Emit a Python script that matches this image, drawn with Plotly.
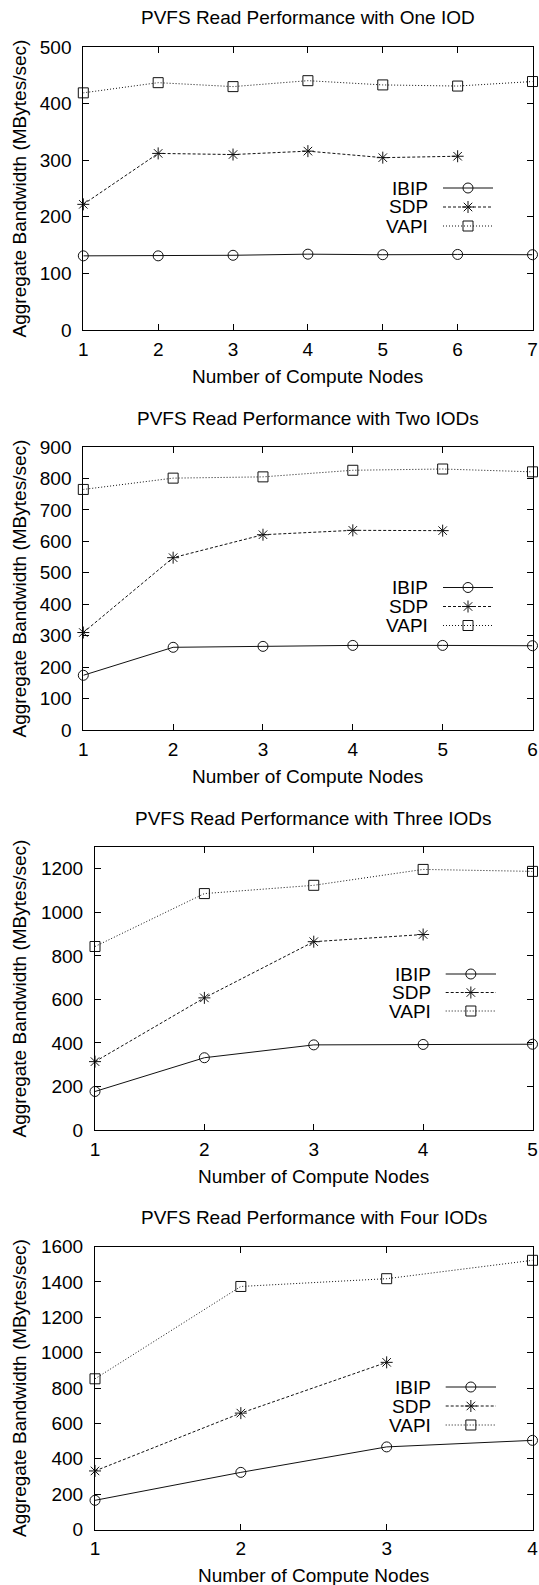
import plotly.graph_objects as go

# ---------------- data ----------------
titles = ["PVFS Read Performance with One IOD",
          "PVFS Read Performance with Two IODs",
          "PVFS Read Performance with Three IODs",
          "PVFS Read Performance with Four IODs"]
series_names = ["IBIP", "SDP", "VAPI"]

nodes_1 = [1, 2, 3, 4, 5, 6, 7]
ibip_1 = [131, 131, 132, 134, 133, 133.5, 133]
sdp_1 = [222, 312, 310, 316, 304.5, 307]
vapi_1 = [419, 437, 430, 440.5, 433, 431, 439]

nodes_2 = [1, 2, 3, 4, 5, 6]
ibip_2 = [174, 263, 266, 269, 269, 268]
sdp_2 = [310, 548, 621, 635, 634]
vapi_2 = [765, 801, 805, 826, 830, 821]

nodes_3 = [1, 2, 3, 4, 5]
ibip_3 = [177, 332, 391, 393, 394]
sdp_3 = [314, 607, 865, 898]
vapi_3 = [843, 1086, 1124, 1197, 1188]

nodes_4 = [1, 2, 3, 4]
ibip_4 = [165, 323, 467, 504]
sdp_4 = [331, 658, 945]
vapi_4 = [852, 1374, 1418, 1522]

y_max = [500, 900, 1300, 1600]
y_dtick = [100, 100, 200, 200]
x_title = "Number of Compute Nodes"
y_title = "Aggregate Bandwidth (MBytes/sec)"

panels = [
    (nodes_1, [ibip_1, sdp_1, vapi_1]),
    (nodes_2, [ibip_2, sdp_2, vapi_2]),
    (nodes_3, [ibip_3, sdp_3, vapi_3]),
    (nodes_4, [ibip_4, sdp_4, vapi_4]),
]

# ---------------- layout geometry (pixels) ----------------
W, H = 539, 1585
plot_left = [83.3, 83.3, 95, 95]
plot_right = 532.5
plot_top = [47, 447, 847, 1246.5]
plot_h = 283
FONT = "Liberation Sans, Arial, Helvetica, sans-serif"
FS = 19
INK = "#111111"

styles = [
    dict(dash="solid", symbol="circle-open"),
    dict(dash="3px,2px", symbol="asterisk-open"),
    dict(dash="1px,2px", symbol="square-open"),
]

# legend geometry per panel: (rows y, text right, line x0, line x1)
legend_geo = [
    ([188, 207, 226], 430, 443, 493),
    ([587.5, 606.5, 625.5], 430, 443, 493),
    ([974, 992.5, 1011], 433.3, 445.7, 496),
    ([1387, 1406, 1425], 433.3, 445.7, 496),
]

fig = go.Figure()
annotations = []

for i, (nodes, ys) in enumerate(panels):
    k = "" if i == 0 else str(i + 1)
    xa, ya = "x" + k, "y" + k
    for j, vals in enumerate(ys):
        st = styles[j]
        fig.add_trace(go.Scatter(
            x=nodes[:len(vals)], y=vals, xaxis=xa, yaxis=ya,
            mode="lines+markers", name=series_names[j], showlegend=False,
            line=dict(color=INK, width=1, dash=st["dash"]),
            marker=dict(symbol=st["symbol"], size=10, color=INK,
                        line=dict(color=INK, width=1)),
            cliponaxis=False,
        ))
    top = plot_top[i]
    bot = top + plot_h
    xd = [plot_left[i] / W, plot_right / W]
    yd = [1 - bot / H, 1 - top / H]
    axis_common = dict(showline=True, linecolor="black", linewidth=1,
                       mirror="ticks", ticks="inside", ticklen=6,
                       tickcolor="black", showgrid=False, zeroline=False,
                       automargin=False,
                       tickfont=dict(family=FONT, size=FS, color="black"))
    fig.layout["xaxis" + k] = dict(domain=xd, anchor=ya,
                                   range=[1, max(nodes)], dtick=1,
                                   tick0=1, ticklabelstandoff=2,
                                   **axis_common)
    fig.layout["yaxis" + k] = dict(domain=yd, anchor=xa,
                                   range=[0, y_max[i]], dtick=y_dtick[i],
                                   ticklabelstandoff=7,
                                   **axis_common)
    cx = (plot_left[i] + plot_right) / 2
    annotations.append(dict(text=titles[i], x=cx / W, y=1 - (top - 29) / H,
                            xref="paper", yref="paper", showarrow=False,
                            xanchor="center", yanchor="middle",
                            font=dict(family=FONT, size=FS, color="black")))
    annotations.append(dict(text=x_title, x=cx / W, y=1 - (bot + 46) / H,
                            xref="paper", yref="paper", showarrow=False,
                            xanchor="center", yanchor="middle",
                            font=dict(family=FONT, size=FS, color="black")))
    annotations.append(dict(text=y_title, x=19 / W, y=1 - (top + plot_h / 2) / H,
                            xref="paper", yref="paper", showarrow=False,
                            textangle=-90, xanchor="center", yanchor="middle",
                            font=dict(family=FONT, size=FS, color="black")))
    # custom gnuplot-style legend (text, then sample)
    rows, tx, lx0, lx1 = legend_geo[i]
    for j, name in enumerate(series_names):
        st = styles[j]
        ry = rows[j]
        annotations.append(dict(text=name, x=tx / W, y=1 - ry / H,
                                xref="paper", yref="paper", showarrow=False,
                                xanchor="right", yanchor="middle",
                                font=dict(family=FONT, size=FS, color="black")))
        fig.add_trace(go.Scatter(
            x=[lx0, lx1], y=[ry, ry], xaxis="x5", yaxis="y5",
            mode="lines", showlegend=False, hoverinfo="skip",
            line=dict(color=INK, width=1, dash=st["dash"])))
        fig.add_trace(go.Scatter(
            x=[(lx0 + lx1) / 2], y=[ry], xaxis="x5", yaxis="y5",
            mode="markers", showlegend=False, hoverinfo="skip",
            marker=dict(symbol=st["symbol"], size=10, color=INK,
                        line=dict(color=INK, width=1))))

fig.layout["xaxis5"] = dict(domain=[0, 1], range=[0, W], visible=False,
                            anchor="y5", fixedrange=True, automargin=False)
fig.layout["yaxis5"] = dict(domain=[0, 1], range=[H, 0], visible=False,
                            anchor="x5", fixedrange=True, automargin=False)

fig.update_layout(
    width=W, height=H, autosize=False,
    margin=dict(l=0, r=0, t=0, b=0, pad=0, autoexpand=False),
    paper_bgcolor="white", plot_bgcolor="rgba(0,0,0,0)",
    showlegend=False, annotations=annotations,
    font=dict(family=FONT, size=FS, color="black"),
)

fig.write_html("out.html",
               config={"displayModeBar": False, "staticPlot": True},
               post_script="document.body.style.margin='0px';"
                           "document.body.style.overflow='hidden';")
